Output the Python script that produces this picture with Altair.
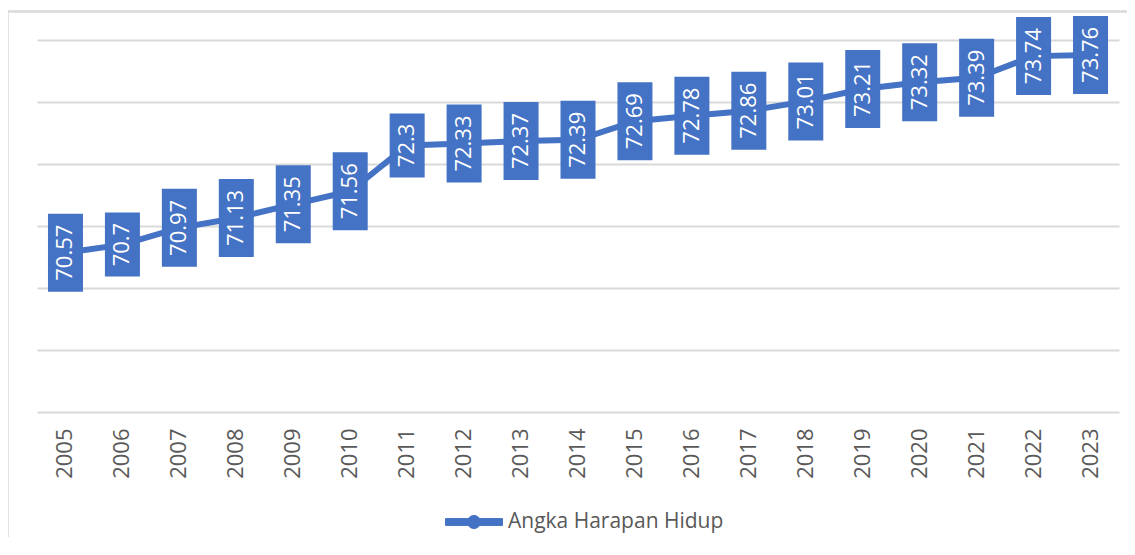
import altair as alt
import pandas as pd

years = ["2005", "2006", "2007", "2008", "2009", "2010", "2011", "2012", "2013", "2014",
         "2015", "2016", "2017", "2018", "2019", "2020", "2021", "2022", "2023"]
values = [70.57, 70.7, 70.97, 71.13, 71.35, 71.56, 72.3, 72.33, 72.37, 72.39,
          72.69, 72.78, 72.86, 73.01, 73.21, 73.32, 73.39, 73.74, 73.76]
series_name = "Angka Harapan Hidup"
y_ticks = [68, 69, 70, 71, 72, 73, 74]

df = pd.DataFrame({
    "year": years,
    "value": values,
    "label": [str(v) for v in values],
    "series": [series_name] * len(years),
})

BLUE = "#4472C4"
GRID = "#D9D9D9"
TXT = "#595959"
FONT = "Open Sans"

x_scale = alt.Scale(type="band", paddingInner=0, paddingOuter=0)
x_axis = alt.Axis(labelAngle=-90, labelFontSize=22, labelColor=TXT, labelFont=FONT,
                  ticks=False, tickSize=0, domain=False, labelPadding=16, grid=False)
y_scale = alt.Scale(domain=[68, 74], nice=False, zero=False)
y_axis = alt.Axis(values=y_ticks, labels=False, ticks=False, domain=False, title=None,
                  grid=True, gridColor=GRID, gridWidth=2)

X = alt.X("year:O", title=None, scale=x_scale, axis=x_axis)

legend_path = ("M-1,-0.12H1V0.12H-1Z "
               "M-0.23,0A0.23,0.23 0 1,1 0.23,0A0.23,0.23 0 1,1 -0.23,0Z")

line = alt.Chart(df).mark_line(strokeWidth=6).encode(
    x=X,
    y=alt.Y("value:Q", title=None, scale=y_scale, axis=y_axis),
    color=alt.Color("series:N", scale=alt.Scale(range=[BLUE]),
                    legend=alt.Legend(title=None, orient="none", legendX=408, legendY=453,
                                      symbolType=legend_path, symbolSize=3249,
                                      symbolStrokeWidth=1, symbolFillColor=BLUE,
                                      labelFontSize=21, labelColor=TXT, labelFont=FONT,
                                      labelOffset=5, labelLimit=0, padding=0)),
)

boxes = alt.Chart(df).transform_calculate(
    lo="datum.value - (14*length(datum.label) + 8)/124",
    hi="datum.value + (14*length(datum.label) + 8)/124",
).mark_bar(size=35, color=BLUE).encode(
    x=X,
    y=alt.Y("lo:Q", title=None, scale=y_scale, axis=y_axis),
    y2="hi:Q",
)

labels = alt.Chart(df).mark_text(angle=270, fontSize=22, color="white", font=FONT,
                                  align="center", baseline="middle").encode(
    x=X,
    y=alt.Y("value:Q", title=None, scale=y_scale, axis=y_axis),
    text="label:N",
)

bdf = pd.DataFrame({"k": [0]})
left_border = alt.Chart(bdf).mark_rule(color=GRID, strokeWidth=2.5).encode(
    x=alt.value(-29.5), y=alt.value(-29), y2=alt.value(520))
top_border = alt.Chart(bdf).mark_rule(color=GRID, strokeWidth=2.5).encode(
    x=alt.value(-29.5), x2=alt.value(1100), y=alt.value(-28.5))

chart = alt.layer(left_border, top_border, line, boxes, labels).properties(
    width=1082, height=372,
    padding={"left": 29, "top": 32, "right": 8, "bottom": 125},
    autosize=alt.AutoSizeParams(type="none"),
    background="white",
).configure_view(strokeWidth=0)

chart.save("out.html", embed_options={"renderer": "svg", "actions": False})
